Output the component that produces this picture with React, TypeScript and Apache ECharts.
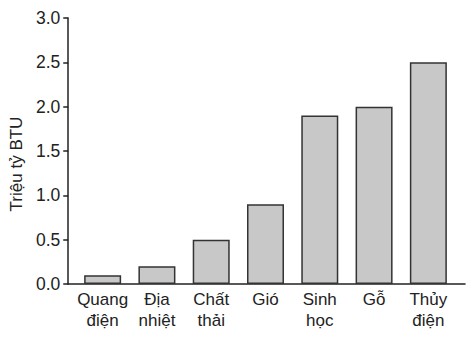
import React, { useEffect, useRef } from "react";
import * as echarts from "echarts";

const categories = ["Quang\nđiện", "Địa\nnhiệt", "Chất\nthải", "Gió", "Sinh\nhọc", "Gỗ", "Thủy\nđiện"];
const values = [0.1, 0.2, 0.5, 0.9, 1.9, 2.0, 2.5];
const yTicks = { min: 0, max: 3, interval: 0.5 };
const yName = "Triệu tỷ BTU";

export default function App() {
  const ref = useRef<HTMLDivElement>(null);
  useEffect(() => {
    if (!ref.current) return;
    const chart = echarts.init(ref.current, null, { renderer: "svg" });
    const font = "Liberation Sans, Arial, sans-serif";
    chart.setOption({
      animation: false,
      backgroundColor: "#ffffff",
      grid: [
        { left: 75.5, right: 18.5, top: 18, bottom: 55 },
        { left: 67, right: 9, top: 18, bottom: 55 },
      ],
      xAxis: [
        {
          gridIndex: 0,
          type: "category",
          data: categories,
          axisLine: { show: false },
          axisTick: { show: false },
          axisLabel: {
            color: "#222",
            fontSize: 17,
            fontFamily: font,
            lineHeight: 21,
            margin: 5,
            interval: 0,
          },
        },
        {
          gridIndex: 1,
          type: "value",
          min: 0,
          max: 1,
          axisLine: { show: true, lineStyle: { color: "#222", width: 1.5 } },
          axisTick: { show: false },
          axisLabel: { show: false },
          splitLine: { show: false },
        },
      ],
      yAxis: [
        {
          gridIndex: 0,
          type: "value",
          min: yTicks.min,
          max: yTicks.max,
          interval: yTicks.interval,
          show: false,
        },
        {
          gridIndex: 1,
          type: "value",
          min: yTicks.min,
          max: yTicks.max,
          interval: yTicks.interval,
          name: yName,
          nameLocation: "middle",
          nameGap: 43,
          nameTextStyle: {
            color: "#222",
            fontSize: 17,
            fontFamily: font,
            padding: [0, 26, 0, 0],
          },
          axisLine: { show: true, lineStyle: { color: "#222", width: 1.5 } },
          axisTick: { show: true, length: 5, lineStyle: { color: "#222", width: 1.5 } },
          axisLabel: {
            color: "#222",
            fontSize: 17.5,
            fontFamily: font,
            margin: 8,
            formatter: (v: number) => v.toFixed(1),
          },
          splitLine: { show: false },
        },
      ],
      series: [
        {
          type: "bar",
          xAxisIndex: 0,
          yAxisIndex: 0,
          data: values,
          barWidth: 37,
          itemStyle: { color: "#c8c8c8", borderColor: "#333", borderWidth: 1.5 },
        },
      ],
    });
    return () => chart.dispose();
  }, []);
  return <div ref={ref} style={{ width: 474, height: 339, position: "absolute", left: 0, top: 0 }} />;
}
